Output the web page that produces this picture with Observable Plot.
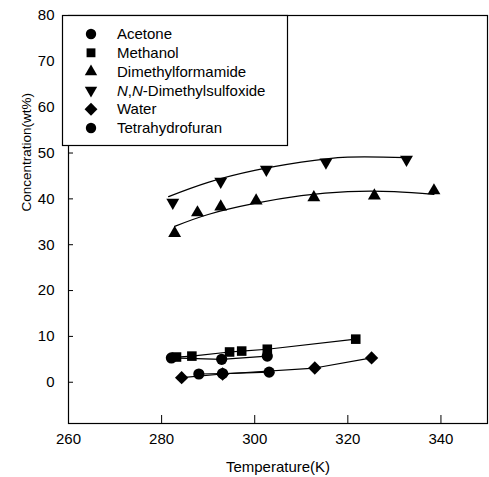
<!DOCTYPE html>
<html>
<head>
<meta charset="utf-8">
<script src="https://cdn.jsdelivr.net/npm/d3@7"></script>
<script src="https://cdn.jsdelivr.net/npm/@observablehq/plot@0.6"></script>
<style>
  html, body { margin: 0; padding: 0; background: #fff; }
  #chart { width: 489px; height: 477px; }
</style>
</head>
<body>
<div id="chart"></div>
<script>
// ---- data ----
const xTicks = [260, 280, 300, 320, 340];
const yTicks = [0, 10, 20, 30, 40, 50, 60, 70, 80];
const xLabel = "Temperature(K)";
const yLabel = "Concentration(wt%)";

const seriesNames = ["Acetone", "Methanol", "Dimethylformamide", "N,N-Dimethylsulfoxide", "Water", "Tetrahydrofuran"];

const acetoneT = [282.1, 292.9, 302.7];
const acetoneC = [5.3, 5.0, 5.7];

const methanolT = [283.2, 286.5, 294.6, 297.2, 302.7, 321.7];
const methanolC = [5.5, 5.7, 6.6, 6.8, 7.2, 9.4];

const dmfT = [282.8, 287.7, 292.7, 300.3, 312.7, 325.7, 338.5];
const dmfC = [32.5, 37.0, 38.3, 39.6, 40.3, 40.7, 41.8];

const dmsoT = [282.4, 292.7, 302.5, 315.3, 332.6];
const dmsoC = [39.2, 43.8, 46.4, 48.0, 48.6];

const waterT = [284.3, 293.1, 312.9, 325.1];
const waterC = [1.0, 1.8, 3.1, 5.3];

const thfT = [288.0, 293.1, 303.1];
const thfC = [1.8, 1.9, 2.2];

// fitted curves
const dmfCurveT = [282.8, 290, 300, 310, 320, 330, 338.5];
const dmfCurveC = [34.0, 36.6, 39.0, 40.7, 41.6, 41.6, 41.0];
const dmsoCurveT = [281.5, 290, 300, 310, 320, 332.6];
const dmsoCurveC = [40.5, 43.6, 46.2, 48.0, 49.1, 49.0];

// ---- build tables ----
const zip = (name, T, C) => T.map((t, i) => ({series: name, T: t, C: C[i]}));
const acetone = zip(seriesNames[0], acetoneT, acetoneC);
const methanol = zip(seriesNames[1], methanolT, methanolC);
const dmf = zip(seriesNames[2], dmfT, dmfC);
const dmso = zip(seriesNames[3], dmsoT, dmsoC);
const water = zip(seriesNames[4], waterT, waterC);
const thf = zip(seriesNames[5], thfT, thfC);
const dmfCurve = zip("dmf", dmfCurveT, dmfCurveC);
const dmsoCurve = zip("dmso", dmsoCurveT, dmsoCurveC);

const FONT = "'Liberation Sans', Arial, Helvetica, sans-serif";
const lineOpts = {x: "T", y: "C", stroke: "black", strokeWidth: 1.2};
const dotOpts = {x: "T", y: "C", fill: "black", stroke: "none"};

const svg = Plot.plot({
  width: 489,
  height: 477,
  marginLeft: 68,
  marginRight: 2,
  marginTop: 15,
  marginBottom: 54,
  style: {fontFamily: FONT, fontSize: "15px", background: "white", color: "black"},
  x: {domain: [260, 350]},
  y: {domain: [-9, 80]},
  marks: [
    Plot.frame({stroke: "black", strokeWidth: 1.2}),
    Plot.axisX({ticks: xTicks, tickSize: 0, tickPadding: 10, label: null, fontSize: 15}),
    Plot.axisY({ticks: yTicks, tickSize: 0, tickPadding: 14, label: null, fontSize: 15}),
    Plot.tickX(xTicks, {x: d => d, insetTop: 400, stroke: "black"}),
    Plot.tickY(yTicks, {y: d => d, insetRight: 414, stroke: "black"}),
    Plot.text([xLabel], {frameAnchor: "bottom", dy: 44, lineAnchor: "middle", fontSize: 15, fill: "black"}),
    Plot.text([yLabel], {frameAnchor: "left", dx: -42, dy: -8, rotate: -90, lineAnchor: "middle", fontSize: 13.5, fill: "black"}),

    Plot.line(dmfCurve, {...lineOpts, curve: "natural"}),
    Plot.line(dmsoCurve, {...lineOpts, curve: "natural"}),
    Plot.line(acetone, lineOpts),
    Plot.line(methanol, lineOpts),
    Plot.line(water, lineOpts),
    Plot.line(thf, lineOpts),

    Plot.dot(acetone, {...dotOpts, symbol: "circle", r: 5.6}),
    Plot.dot(methanol, {...dotOpts, symbol: "square", r: 5.4}),
    Plot.dot(dmf, {...dotOpts, symbol: "triangle", r: 4.8}),
    Plot.dot(dmso, {...dotOpts, symbol: "triangle", r: 4.8, rotate: 180}),
    Plot.dot(water, {...dotOpts, symbol: "diamond2", r: 6}),
    Plot.dot(thf, {...dotOpts, symbol: "circle", r: 5.6})
  ]
});

// ---- legend box inside the frame ----
const legendSymbols = [
  {type: d3.symbolCircle, size: Math.PI * 5.2 * 5.2, rot: 0},
  {type: d3.symbolSquare, size: Math.PI * 5 * 5, rot: 0},
  {type: d3.symbolTriangle, size: Math.PI * 4.6 * 4.6, rot: 0},
  {type: d3.symbolTriangle, size: Math.PI * 4.6 * 4.6, rot: 180},
  {type: d3.symbolDiamond2, size: Math.PI * 5.8 * 5.8, rot: 0},
  {type: d3.symbolCircle, size: Math.PI * 5.2 * 5.2, rot: 0}
];
const g = d3.select(svg).append("g")
  .attr("font-family", FONT).attr("font-size", 15).attr("text-anchor", "start");
g.append("rect").attr("x", 62.5).attr("y", 15.5).attr("width", 225).attr("height", 130)
  .attr("fill", "white").attr("stroke", "black").attr("stroke-width", 1.2);
seriesNames.forEach((name, i) => {
  const cy = 34 + i * 18.8;
  g.append("path")
    .attr("d", d3.symbol(legendSymbols[i].type, legendSymbols[i].size)())
    .attr("transform", `translate(91,${cy}) rotate(${legendSymbols[i].rot})`)
    .attr("fill", "black");
  const t = g.append("text").attr("x", 117).attr("y", cy).attr("dy", "0.35em")
    .attr("text-anchor", "start").attr("fill", "black");
  if (name.startsWith("N,N-")) {
    t.append("tspan").attr("font-style", "italic").text("N");
    t.append("tspan").text(",");
    t.append("tspan").attr("font-style", "italic").text("N");
    t.append("tspan").text(name.slice(3));
  } else {
    t.text(name);
  }
});

document.getElementById("chart").appendChild(svg);
</script>
</body>
</html>
